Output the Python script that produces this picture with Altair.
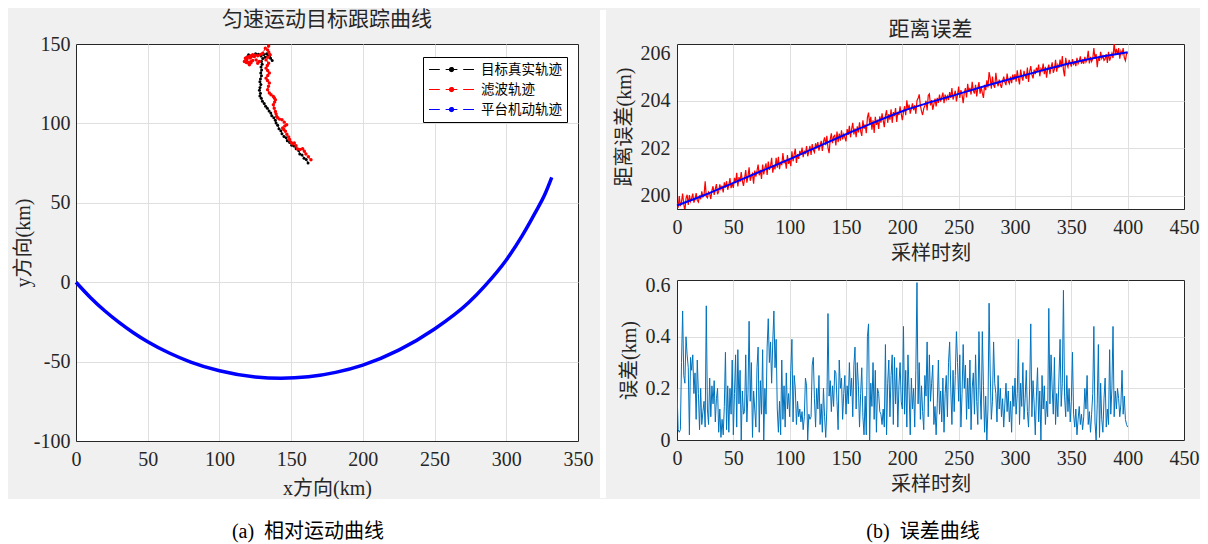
import altair as alt
import pandas as pd

FONT = "Liberation Serif, Noto Sans CJK SC"
INK = "#262626"
BG = "#f0f0f0"
GRID = "#dfdfdf"

# ---------------- left panel data ----------------
series_names = ["目标真实轨迹", "滤波轨迹", "平台机动轨迹"]
series_colors = ["#000000", "#ff0000", "#0000ff"]

true_x = [161.8, 160.5, 159.0, 157.6, 156.0, 155.2, 153.5, 152.0, 150.4, 149.0, 147.3, 146.5, 145.0, 143.6,
          142.8, 141.5, 140.6, 139.5, 139.0, 137.9, 136.5, 135.8, 134.6, 133.4, 132.2, 131.2, 130.0, 129.2,
          128.2, 128.6, 127.9, 128.3, 128.9, 128.2, 128.6, 129.3, 128.8, 129.4, 129.0, 129.8, 129.3, 130.2,
          131.8, 133.8, 135.6, 136.8, 135.2, 133.0, 131.0, 129.0, 127.2, 125.2, 123.5, 121.8, 120.3, 119.2]
true_y = [75.0, 77.2, 78.0, 80.1, 80.8, 82.9, 84.0, 85.8, 86.3, 88.0, 89.0, 91.0, 91.8, 93.5,
          95.4, 96.6, 98.8, 100.2, 102.0, 103.6, 104.8, 106.6, 107.8, 109.5, 110.8, 112.6, 114.0, 115.8,
          117.2, 119.0, 120.8, 122.6, 124.5, 126.2, 128.0, 130.0, 131.8, 133.7, 135.5, 137.2, 139.0, 140.8,
          141.6, 142.4, 141.0, 139.6, 143.0, 143.9, 143.4, 142.5, 143.6, 143.9, 142.6, 142.0, 143.3, 141.8]

filt_x = [163.8, 162.0, 160.3, 159.2, 158.0, 156.2, 154.5, 153.4, 152.2, 150.8, 149.9, 148.9, 148.3, 147.0,
          146.0, 144.9, 144.1, 145.6, 146.9, 145.2, 143.6, 141.8, 140.6, 139.9, 139.5, 139.0, 138.2, 137.6,
          138.5, 139.0, 138.3, 137.6, 136.0, 134.8, 133.6, 134.2, 134.8, 133.5, 132.5, 133.7, 134.8, 133.6,
          132.5, 133.4, 134.3, 132.5, 133.8, 135.3, 134.4, 133.6, 134.3, 132.0, 130.2, 128.5, 126.7, 124.9,
          123.2, 122.0, 120.9, 119.5, 118.1, 117.4, 118.8, 120.4, 121.8, 123.2, 122.0, 120.9, 119.6, 119.0,
          121.5, 124.4, 125.6, 126.7, 127.8]
filt_y = [77.1, 79.0, 80.7, 82.5, 84.0, 83.5, 83.9, 86.0, 87.6, 87.2, 88.1, 89.8, 91.4, 93.2,
          95.0, 96.2, 97.1, 98.3, 99.2, 100.8, 102.3, 102.7, 103.6, 104.4, 106.0, 107.5, 109.6, 111.7,
          113.4, 114.9, 116.0, 117.0, 118.0, 119.1, 121.2, 123.4, 125.4, 127.0, 128.5, 130.2, 131.7, 133.3,
          134.8, 136.4, 137.9, 140.0, 141.6, 143.2, 144.8, 146.3, 148.8, 147.4, 144.2, 143.4, 142.6, 143.0,
          143.2, 142.6, 142.1, 141.6, 141.1, 139.0, 138.4, 137.9, 138.8, 139.6, 138.2, 136.9, 138.5, 140.0,
          141.2, 142.1, 140.0, 137.9, 139.0]

plat_x = [0, 10, 20, 30, 40, 50, 65, 80, 100, 125, 143, 162, 181, 200, 225, 250, 273.6, 285.4, 300, 310.9,
          320, 327, 331.7]
plat_y = [0, -9.6, -18.0, -25.3, -31.8, -37.5, -44.6, -50.3, -55.8, -59.7, -60.5, -59.6, -56.8, -52.2,
          -42.8, -29.5, -13.0, -2.0, 14.0, 29.0, 43.5, 55.5, 66.0]

# ---------------- right panels data ----------------
dist_meas = [
    199.70, 199.50, 200.00, 199.57, 199.75, 200.10, 199.65, 199.37, 199.90, 200.05,
    199.62, 200.04, 199.77, 199.90, 200.10, 199.72, 199.87, 200.12, 199.82, 199.74,
    200.02, 199.86, 200.19, 199.96, 200.04, 200.62, 199.99, 199.92, 200.16, 200.09,
    199.87, 200.23, 200.41, 200.04, 200.30, 200.50, 200.07, 200.19, 200.49, 200.29,
    200.43, 200.15, 200.57, 200.35, 200.62, 200.26, 200.47, 200.75, 200.33, 200.53,
    200.34, 200.76, 200.54, 200.97, 200.40, 200.79, 200.59, 201.01, 200.63, 200.42,
    200.75, 201.09, 200.56, 200.82, 201.21, 200.64, 200.84, 200.94, 200.52, 201.07,
    200.81, 201.06, 201.32, 200.87, 201.10, 200.72, 201.32, 200.91, 201.17, 201.37,
    200.88, 201.45, 201.10, 201.25, 201.61, 200.98, 201.29, 201.12, 201.61, 201.19,
    201.65, 201.13, 201.44, 201.30, 201.81, 201.37, 201.52, 201.15, 201.72, 201.35,
    201.53, 201.25, 201.88, 201.46, 201.74, 201.99, 201.39, 201.76, 201.56, 201.90,
    201.73, 202.04, 201.63, 201.91, 201.76, 202.10, 201.67, 201.88, 202.11, 201.73,
    202.18, 201.93, 201.83, 202.22, 202.00, 202.27, 201.91, 202.12, 202.32, 201.90,
    202.29, 202.47, 202.14, 202.53, 202.03, 201.80, 202.38, 202.64, 202.22, 202.50,
    202.55, 202.13, 202.71, 202.27, 202.63, 202.33, 202.76, 202.38, 202.60, 202.46,
    202.30, 202.82, 202.57, 202.95, 202.47, 202.82, 203.08, 202.59, 202.85, 202.48,
    202.93, 202.68, 203.10, 202.73, 202.53, 203.19, 202.83, 203.01, 202.64, 203.30,
    203.51, 203.02, 203.33, 202.79, 203.19, 202.65, 203.33, 202.99, 203.21, 202.82,
    203.35, 203.09, 203.48, 203.18, 202.90, 203.38, 203.61, 203.08, 203.45, 203.21,
    203.65, 203.08, 203.53, 203.36, 203.70, 203.12, 203.54, 203.41, 203.77, 203.47,
    203.19, 203.53, 203.78, 203.40, 204.03, 203.62, 203.85, 203.47, 203.68, 203.90,
    203.61, 203.82, 203.46, 204.01, 204.11, 204.28, 203.82, 203.57, 203.41, 203.68,
    203.81, 204.01, 203.60, 204.23, 204.30, 203.81, 204.04, 203.63, 203.87, 204.10,
    203.77, 204.13, 203.92, 204.27, 203.97, 204.16, 204.35, 203.91, 204.27, 204.06,
    204.21, 204.04, 204.37, 204.13, 204.54, 204.06, 204.25, 204.43, 203.98, 204.26,
    204.61, 204.13, 204.46, 204.26, 203.91, 204.35, 204.54, 204.15, 204.72, 204.38,
    204.55, 204.27, 204.81, 204.44, 204.31, 204.68, 204.19, 204.54, 204.80, 204.31,
    204.59, 204.33, 204.13, 204.68, 204.46, 204.87, 204.57, 205.22, 204.96, 204.52,
    205.03, 204.67, 204.56, 205.19, 204.80, 204.62, 204.90, 204.69, 204.55, 204.84,
    205.03, 204.80, 204.67, 205.15, 204.84, 204.73, 205.03, 204.75, 205.11, 204.89,
    205.13, 204.81, 205.29, 204.95, 204.70, 205.32, 205.02, 204.86, 205.27, 205.06,
    204.93, 205.41, 204.80, 205.24, 205.47, 205.11, 204.95, 205.32, 205.13, 205.40,
    205.26, 205.53, 205.04, 205.36, 205.27, 205.58, 205.13, 205.44, 204.98, 205.36,
    205.53, 205.13, 205.41, 205.63, 205.19, 205.34, 205.73, 205.23, 205.52, 205.39,
    205.74, 205.42, 205.89, 205.30, 205.04, 205.82, 205.54, 205.42, 205.73, 205.60,
    205.45, 205.76, 205.55, 205.64, 205.47, 205.82, 205.57, 205.68, 205.88, 205.57,
    205.71, 205.57, 205.86, 205.64, 205.75, 206.11, 205.58, 205.86, 205.66, 205.77,
    206.23, 205.78, 205.98, 205.42, 205.85, 205.69, 206.07, 205.79, 205.90, 205.71,
    205.77, 205.97, 205.60, 206.07, 205.70, 205.85, 206.01, 205.81, 206.45, 205.96,
    206.19, 205.94, 206.23, 205.78, 206.10, 205.98, 206.23, 205.83, 205.70, 205.99,
    206.02]

dist_true_t = [0, 25, 50, 75, 100, 125, 150, 175, 200, 225, 250, 275, 300, 325, 350, 375, 400]
dist_true = [199.60, 200.05, 200.55, 201.05, 201.55, 202.08, 202.60, 203.10, 203.57, 203.95, 204.30,
             204.65, 204.98, 205.30, 205.60, 205.85, 206.05]

err = [
    0.20, 0.04, 0.03, 0.04, 0.30, 0.50, 0.25, 0.22, 0.40, 0.33,
    0.28, 0.02, 0.32, 0.27, 0.33, 0.18, 0.26, 0.08, 0.31, 0.18,
    0.04, 0.20, 0.06, 0.11, 0.15, 0.05, 0.52, 0.12, 0.06, 0.24,
    0.09, 0.21, 0.14, 0.23, 0.07, 0.16, 0.20, 0.03, 0.12, 0.01,
    0.08, 0.02, 0.13, 0.34, 0.04, 0.21, 0.03, 0.20, 0.10, 0.31,
    0.02, 0.18, 0.33, 0.05, 0.35, 0.14, 0.27, 0.00, 0.19, 0.10,
    0.11, 0.33, 0.07, 0.18, 0.46, 0.15, 0.30, 0.01, 0.19, 0.12,
    0.05, 0.28, 0.36, 0.03, 0.23, 0.10, 0.35, 0.00, 0.20, 0.10,
    0.36, 0.47, 0.30, 0.38, 0.22, 0.38, 0.50, 0.28, 0.39, 0.12,
    0.03, 0.15, 0.02, 0.31, 0.08, 0.21, 0.05, 0.26, 0.12, 0.18,
    0.09, 0.27, 0.39, 0.07, 0.25, 0.20, 0.06, 0.15, 0.09, 0.12,
    0.07, 0.11, 0.04, 0.09, 0.24, 0.21, 0.00, 0.10, 0.08, 0.09,
    0.29, 0.32, 0.16, 0.05, 0.20, 0.12, 0.25, 0.06, 0.14, 0.03,
    0.20, 0.09, 0.01, 0.12, 0.49, 0.17, 0.23, 0.11, 0.21, 0.13,
    0.27, 0.26, 0.15, 0.04, 0.31, 0.20, 0.24, 0.08, 0.18, 0.25,
    0.10, 0.21, 0.14, 0.30, 0.17, 0.24, 0.09, 0.29, 0.36, 0.12,
    0.30, 0.21, 0.05, 0.18, 0.28, 0.09, 0.02, 0.17, 0.02, 0.40,
    0.45, 0.00, 0.22, 0.13, 0.30, 0.08, 0.27, 0.03, 0.20, 0.18,
    0.11, 0.10, 0.06, 0.12, 0.05, 0.37, 0.02, 0.22, 0.31, 0.09,
    0.25, 0.33, 0.06, 0.32, 0.14, 0.28, 0.05, 0.21, 0.30, 0.15,
    0.12, 0.44, 0.10, 0.27, 0.05, 0.33, 0.19, 0.02, 0.24, 0.12,
    0.20, 0.05, 0.27, 0.61, 0.14, 0.30, 0.08, 0.21, 0.11, 0.04,
    0.25, 0.17, 0.38, 0.09, 0.33, 0.15, 0.22, 0.29, 0.06, 0.13,
    0.02, 0.14, 0.31, 0.10, 0.19, 0.07, 0.24, 0.03, 0.18, 0.25,
    0.09, 0.30, 0.38, 0.20, 0.06, 0.27, 0.11, 0.25, 0.42, 0.30,
    0.15, 0.33, 0.05, 0.18, 0.37, 0.20, 0.29, 0.08, 0.24, 0.12,
    0.31, 0.04, 0.20, 0.26, 0.10, 0.33, 0.15, 0.06, 0.42, 0.19,
    0.08, 0.42, 0.21, 0.03, 0.17, 0.00, 0.12, 0.53, 0.26, 0.08,
    0.15, 0.38, 0.22, 0.18, 0.07, 0.25, 0.12, 0.20, 0.09, 0.16,
    0.05, 0.14, 0.22, 0.11, 0.19, 0.07, 0.15, 0.03, 0.21, 0.13,
    0.24, 0.10, 0.18, 0.39, 0.06, 0.22, 0.13, 0.30, 0.08, 0.16,
    0.27, 0.11, 0.05, 0.20, 0.45, 0.09, 0.23, 0.14, 0.02, 0.17,
    0.28, 0.07, 0.19, 0.00, 0.25, 0.12, 0.21, 0.06, 0.15, 0.09,
    0.51, 0.14, 0.33, 0.20, 0.10, 0.32, 0.06, 0.18, 0.09, 0.24,
    0.39, 0.13, 0.22, 0.58, 0.17, 0.09, 0.25, 0.11, 0.20, 0.07,
    0.15, 0.34, 0.10, 0.05, 0.12, 0.02, 0.08, 0.13, 0.06, 0.10,
    0.04, 0.09, 0.20, 0.12, 0.25, 0.06, 0.11, 0.03, 0.10, 0.18,
    0.44, 0.07, 0.00, 0.14, 0.37, 0.01, 0.22, 0.08, 0.03, 0.16,
    0.24, 0.05, 0.12, 0.06, 0.35, 0.10, 0.20, 0.44, 0.09, 0.19,
    0.12, 0.20, 0.16, 0.09, 0.14, 0.27, 0.10, 0.17, 0.08, 0.06,
    0.05]

left_x_ticks = [0, 50, 100, 150, 200, 250, 300, 350]
left_y_ticks = [-100, -50, 0, 50, 100, 150]
right_x_ticks = [0, 50, 100, 150, 200, 250, 300, 350, 400, 450]
dist_ticks = [200, 202, 204, 206]
err_ticks = [0, 0.2, 0.4, 0.6]

captions = ["(a)\u00a0\u00a0相对运动曲线", "(b)\u00a0\u00a0误差曲线"]

# ---------------- tables ----------------
df_true = pd.DataFrame({"x": true_x, "y": true_y, "series": series_names[0], "i": range(len(true_x))})
df_filt = pd.DataFrame({"x": filt_x, "y": filt_y, "series": series_names[1], "i": range(len(filt_x))})
df_plat = pd.DataFrame({"x": plat_x, "y": plat_y, "series": series_names[2], "i": range(len(plat_x))})
df_meas = pd.DataFrame({"t": range(len(dist_meas)), "v": dist_meas})
df_dtrue = pd.DataFrame({"t": dist_true_t, "v": dist_true})
df_err = pd.DataFrame({"t": range(len(err)), "v": err})

LEG_PATH = ("M-1,0H-0.52M-0.26,0H0.26M0.52,0H1"
            "M0.09,0A0.09,0.09,0,1,1,-0.09,0A0.09,0.09,0,1,1,0.09,0Z")

legend = alt.Legend(title=None, orient="none", legendX=347, legendY=13,
                    symbolType=LEG_PATH, symbolSize=2025, symbolStrokeWidth=1.2,
                    symbolDash=[1, 0], clipHeight=15,
                    labelFont=FONT, labelFontSize=13.5, labelColor="#000000",
                    fillColor="white", strokeColor="#000000", padding=5, rowPadding=5,
                    labelOffset=6)
color_scale = alt.Scale(domain=series_names, range=series_colors)
NUM = "datum.value + ''"


def ax(values, title, lp, tp):
    top = max(values)
    return alt.Axis(values=values, title=title, grid=True, ticks=False,
                    domain=True, domainColor=INK, domainWidth=1,
                    gridOpacity={"condition": {"test": f"datum.value >= {top}", "value": 0}, "value": 1},
                    labelFlush=False, labelOverlap=False, labelPadding=lp, titlePadding=tp,
                    labelExpr=NUM)


lxs = alt.Scale(domain=[0, 350], nice=False)
lys = alt.Scale(domain=[-100, 150], nice=False)
lxa = ax(left_x_ticks, "x方向(km)", 8, 9)
lya = ax(left_y_ticks, "y方向(km)", 6, 0)


def lenc(legend_def):
    return dict(x=alt.X("x:Q", scale=lxs, axis=lxa),
                y=alt.Y("y:Q", scale=lys, axis=lya),
                color=alt.Color("series:N", scale=color_scale, legend=legend_def))


plat_line = alt.Chart(df_plat).mark_line(strokeWidth=3.5, interpolate="monotone").encode(**lenc(legend))
true_line = alt.Chart(df_true).mark_line(strokeWidth=1, strokeDash=[4, 2]).encode(order="i:Q", **lenc(legend))
true_pts = alt.Chart(df_true).mark_circle(size=9, opacity=1).encode(**lenc(None))
filt_line = alt.Chart(df_filt).mark_line(strokeWidth=1, strokeDash=[4, 2]).encode(order="i:Q", **lenc(legend))
filt_pts = alt.Chart(df_filt).mark_circle(size=12, opacity=1).encode(**lenc(None))

left = alt.layer(plat_line, true_line, true_pts, filt_line, filt_pts).properties(
    width=502, height=397,
    title=alt.Title("匀速运动目标跟踪曲线", offset=4))

rxs = alt.Scale(domain=[0, 450], nice=False)
rt_ys = alt.Scale(domain=[199.45, 206.4], nice=False)
rt_ya = ax(dist_ticks, "距离误差(km)", 7, 6)
rx_a = ax(right_x_ticks, "采样时刻", 8, 6)

r_top = alt.layer(
    alt.Chart(df_meas).mark_line(color="#ff0000", strokeWidth=1.2, clip=True).encode(
        x=alt.X("t:Q", scale=rxs, axis=rx_a), y=alt.Y("v:Q", scale=rt_ys, axis=rt_ya)),
    alt.Chart(df_dtrue).mark_line(color="#0000ff", strokeWidth=2, interpolate="monotone").encode(
        x=alt.X("t:Q", scale=rxs, axis=rx_a), y=alt.Y("v:Q", scale=rt_ys, axis=rt_ya)),
).properties(width=507, height=165, title=alt.Title("距离误差", offset=3))

# white gutter between the two grey panels (decoration only, drawn from the lower-right panel)
gutter = alt.Chart(pd.DataFrame({"g": [0]})).mark_rect(color="white").encode(
    x=alt.value(-77), x2=alt.value(-71), y=alt.value(-270), y2=alt.value(218))

r_bot = alt.layer(
    gutter,
    alt.Chart(df_err).mark_line(color="#0072bd", strokeWidth=1, clip=True).encode(
        x=alt.X("t:Q", scale=rxs, axis=rx_a),
        y=alt.Y("v:Q", scale=alt.Scale(domain=[0, 0.62], nice=False), axis=ax(err_ticks, "误差(km)", 7, 6))),
).properties(width=507, height=160)

right = alt.vconcat(r_top, r_bot, spacing=71, bounds="flush")
top_row = alt.hconcat(left, right, spacing=99, bounds="flush")

# caption strip: white band under the panels, with the two sub-figure captions
cap_bg = alt.Chart(pd.DataFrame({"g": [0]})).mark_rect(color="white").encode(
    x=alt.value(-68), x2=alt.value(1124), y=alt.value(0), y2=alt.value(48))
cap_a = alt.Chart(pd.DataFrame({"cap": [captions[0]]})).mark_text(
    font=FONT, fontSize=20, color="#000000", baseline="middle").encode(
    text="cap:N", x=alt.value(232), y=alt.value(33))
cap_b = alt.Chart(pd.DataFrame({"cap": [captions[1]]})).mark_text(
    font=FONT, fontSize=20, color="#000000", baseline="middle").encode(
    text="cap:N", x=alt.value(847), y=alt.value(33))
caption = alt.layer(cap_bg, cap_a, cap_b).properties(
    width=1124, height=48, view=alt.ViewBackground(fill="white", stroke="white", strokeWidth=0))

chart = alt.vconcat(top_row, caption, spacing=0).properties(
    background=BG, padding={"left": 0, "top": 0, "right": 0, "bottom": 0}
).configure_view(
    fill="white", stroke=INK, strokeWidth=1
).configure_axis(
    labelFont=FONT, labelFontSize=20, labelColor=INK,
    titleFont=FONT, titleFontSize=20, titleFontWeight="normal", titleColor=INK,
    gridColor=GRID, gridWidth=1
).configure_title(
    font=FONT, fontSize=21, fontWeight="normal", color=INK
)

chart.save("out.html", embed_options={"renderer": "svg", "actions": False})
